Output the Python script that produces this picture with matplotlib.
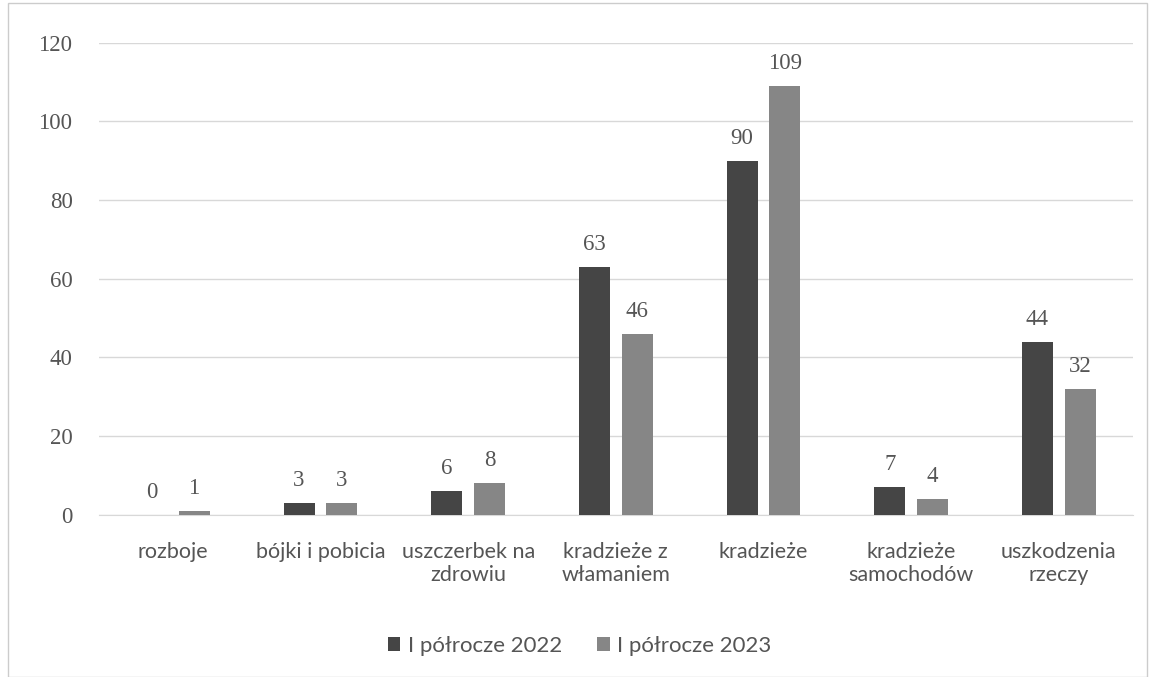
import matplotlib
matplotlib.use("Agg")
import matplotlib.pyplot as plt
import numpy as np
from matplotlib.patches import Rectangle

categories = ["rozboje", "bójki i pobicia", "uszczerbek na\nzdrowiu", "kradzieże z\nwłamaniem",
              "kradzieże", "kradzieże\nsamochodów", "uszkodzenia\nrzeczy"]
series_names = ["I półrocze 2022", "I półrocze 2023"]
values_2022 = [0, 3, 6, 63, 90, 7, 44]
values_2023 = [1, 3, 8, 46, 109, 4, 32]
yticks = [0, 20, 40, 60, 80, 100, 120]

colors = ["#454545", "#868686"]
text_color = "#555555"

fig = plt.figure(figsize=(11.5, 6.77), dpi=100)
ax = fig.add_axes([0.086, 0.24, 0.899, 0.697])

x = np.arange(len(categories))
w = 0.21
off = 0.145
b1 = ax.bar(x - off, values_2022, w, color=colors[0], label=series_names[0], zorder=3)
b2 = ax.bar(x + off, values_2023, w, color=colors[1], label=series_names[1], zorder=3)

for bars, vals in ((b1, values_2022), (b2, values_2023)):
    for rect, v in zip(bars, vals):
        ax.text(rect.get_x() + rect.get_width() / 2, v + 3.0, str(v), ha="center", va="bottom",
                fontsize=16.5, color=text_color, family="Liberation Serif")

ax.set_xlim(-0.5, len(categories) - 0.5)
ax.set_ylim(0, 120)
ax.set_yticks(yticks)
ax.set_yticklabels([str(t) for t in yticks], family="Liberation Serif", fontsize=16.5, color=text_color)
ax.set_xticks(x)
ax.set_xticklabels(categories, family="Lato", fontsize=15.5, color=text_color, linespacing=1.2)
ax.tick_params(axis="both", length=0)
ax.tick_params(axis="y", pad=19)
ax.tick_params(axis="x", pad=20)
ax.grid(axis="y", color="#d8d8d8", lw=1, zorder=0)
for s in ["top", "right", "left"]:
    ax.spines[s].set_visible(False)
ax.spines["bottom"].set_color("#d8d8d8")

leg = ax.legend(loc="upper center", bbox_to_anchor=(0.465, -0.215), ncol=2, frameon=False,
                handlelength=0.55, handleheight=0.55, handletextpad=0.35, columnspacing=1.6,
                prop={"family": "Lato", "size": 16})
for t in leg.get_texts():
    t.set_color(text_color)

# outer border like the original
fig.patches.append(Rectangle((0.007, 0.0), 0.99, 0.995, transform=fig.transFigure,
                             fill=False, edgecolor="#cccccc", lw=1))

fig.savefig("out.png", dpi=100, facecolor="white")
